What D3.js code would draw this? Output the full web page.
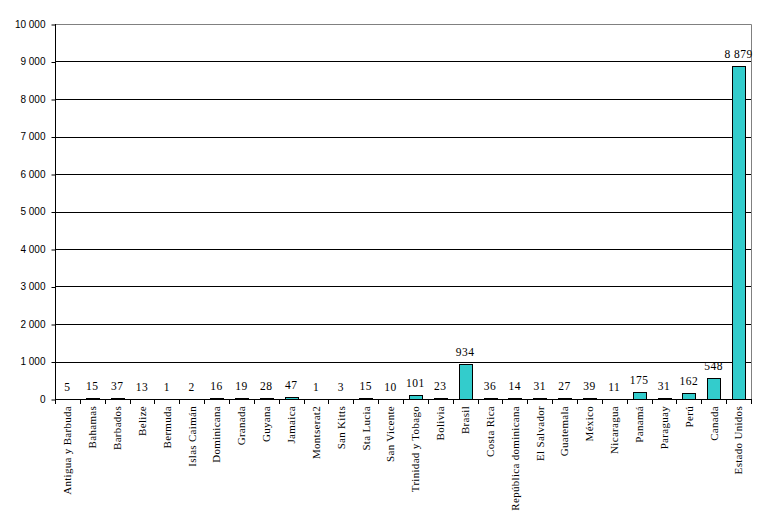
<!DOCTYPE html>
<html lang="es">
<head>
<meta charset="utf-8">
<title>Bar chart</title>
<script src="https://d3js.org/d3.v7.min.js"></script>
<style>
  body { margin: 0; background: #fff; }
  svg { display: block; }
</style>
</head>
<body>
<script>
// categories and values
var countries = ["Antigua y Barbuda", "Bahamas", "Barbados", "Belize", "Bermuda", "Islas Caimán",
  "Dominicana", "Granada", "Guyana", "Jamaica", "Montserat2", "San Kitts", "Sta Lucia", "San Vicente",
  "Trinidad y Tobago", "Bolivia", "Brasil", "Costa Rica", "República dominicana", "El Salvador",
  "Guatemala", "México", "Nicaragua", "Panamá", "Paraguay", "Perú", "Canada", "Estado Unidos"];
var values = [5, 15, 37, 13, 1, 2, 16, 19, 28, 47, 1, 3, 15, 10, 101, 23, 934, 36, 14, 31, 27, 39,
  11, 175, 31, 162, 548, 8879];
var yTicks = [0, 1000, 2000, 3000, 4000, 5000, 6000, 7000, 8000, 9000, 10000];

var w = 765, h = 529;
var mLeft = 55, mRight = 751, mTop = 24, mBottom = 399;

var svg = d3.select("body").append("svg")
  .attr("width", w)
  .attr("height", h);

var x = d3.scaleBand()
  .domain(countries)
  .range([mLeft, mRight])
  .paddingInner(0.48)
  .paddingOuter(0.24);

var y = d3.scaleLinear()
  .domain([0, 10000])
  .range([mBottom, mTop]);

var fmt = function(v) { return d3.format(",")(v).replace(/,/g, " "); };

// gridlines
svg.append("g")
  .selectAll("line")
  .data(yTicks.filter(function(d) { return d > 0 && d < 10000; }))
  .enter().append("line")
  .attr("x1", mLeft).attr("x2", mRight)
  .attr("y1", function(d) { return Math.round(y(d)) + 0.5; })
  .attr("y2", function(d) { return Math.round(y(d)) + 0.5; })
  .attr("stroke", "#000")
  .attr("stroke-width", 1);

// plot area border top/right (gray)
svg.append("path")
  .attr("d", "M" + mLeft + "," + (mTop + 0.5) + "H" + (mRight + 0.5) + "V" + mBottom)
  .attr("fill", "none")
  .attr("stroke", "#808080");

// bars
svg.append("g")
  .selectAll("rect")
  .data(values)
  .enter().append("rect")
  .attr("x", function(d, i) { return Math.round(x(countries[i])) + 0.5; })
  .attr("y", function(d) { return Math.round(y(d)) + 0.5; })
  .attr("width", function() { return Math.round(x.bandwidth()); })
  .attr("height", function(d) { return Math.max(0, Math.round(y(0)) - Math.round(y(d))); })
  .attr("fill", "#33CCCC")
  .attr("stroke", "#000")
  .attr("stroke-width", 1);

// value labels
svg.append("g")
  .selectAll("text")
  .data(values)
  .enter().append("text")
  .attr("x", function(d, i) { return x(countries[i]) + x.bandwidth() / 2; })
  .attr("y", function(d) { return y(d) - 8; })
  .attr("text-anchor", "middle")
  .style("font-family", "'Liberation Serif', serif")
  .style("font-size", "11.5px")
  .style("letter-spacing", "0.5px")
  .text(function(d) { return fmt(d); });

// y axis
var yAxis = d3.axisLeft(y)
  .tickValues(yTicks)
  .tickSize(4)
  .tickFormat(fmt);
var gy = svg.append("g")
  .attr("transform", "translate(" + (mLeft + 0.5) + ",0)")
  .call(yAxis);
gy.select(".domain").attr("d", "M0," + mTop + "V" + (mBottom + 0.5));
gy.selectAll(".tick line").attr("transform", "translate(0,0.5)");
gy.selectAll("text")
  .attr("x", -10)
  .style("font-family", "'Liberation Sans', Arial, sans-serif")
  .style("font-size", "10px")
  .attr("fill", "#000");

// x axis line and category boundary ticks
svg.append("line")
  .attr("x1", mLeft).attr("x2", mRight + 1)
  .attr("y1", mBottom + 0.5).attr("y2", mBottom + 0.5)
  .attr("stroke", "#000");
var step = x.step();
svg.append("g")
  .selectAll("line")
  .data(d3.range(countries.length + 1))
  .enter().append("line")
  .attr("x1", function(i) { return Math.round(mLeft + i * step) + 0.5; })
  .attr("x2", function(i) { return Math.round(mLeft + i * step) + 0.5; })
  .attr("y1", mBottom)
  .attr("y2", mBottom + 5)
  .attr("stroke", "#000");

// category labels
svg.append("g")
  .selectAll("text")
  .data(countries)
  .enter().append("text")
  .attr("transform", function(d) {
    return "translate(" + (x(d) + x.bandwidth() / 2) + "," + (mBottom + 7) + ") rotate(-90)";
  })
  .attr("dy", "0.35em")
  .attr("text-anchor", "end")
  .style("font-family", "'Liberation Serif', serif")
  .style("font-size", "11px")
  .style("letter-spacing", "0.3px")
  .text(function(d) { return d; });
</script>
</body>
</html>
